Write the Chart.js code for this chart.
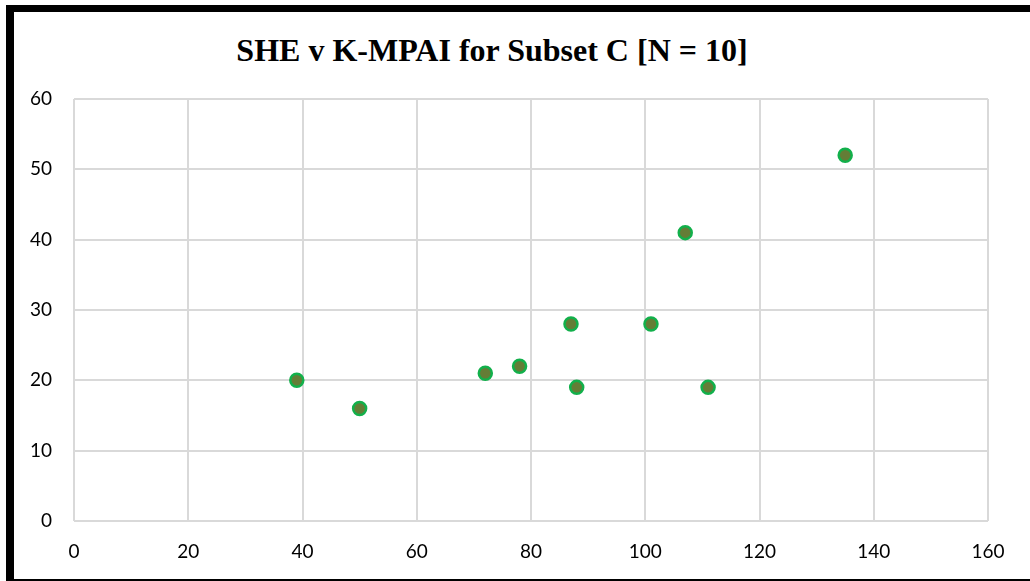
<!DOCTYPE html>
<html>
<head>
<meta charset="utf-8">
<script src="https://cdn.jsdelivr.net/npm/chart.js@4/dist/chart.umd.min.js"></script>
<style>
  html, body { margin: 0; padding: 0; background: #fff; }
  body { width: 1030px; height: 581px; position: relative; overflow: hidden; }
  #frame {
    position: absolute; left: 6px; top: 5px; width: 1040px; height: 567px;
    border-top: 7px solid #000; border-left: 8px solid #000; border-bottom: 2px solid #000;
  }
  #title {
    position: absolute; left: 0; top: 32px; width: 984px; text-align: center;
    font-family: "Liberation Serif", "DejaVu Serif", serif; font-weight: bold; font-size: 32px;
    color: #000;
  }
  #chart { position: absolute; left: 0; top: 0; }
</style>
</head>
<body>
<div id="frame"></div>
<div id="title">SHE v K-MPAI for Subset C [N = 10]</div>
<canvas id="chart" width="1030" height="581"></canvas>
<script>
// K-MPAI (x) against SHE (y) for the ten cases in subset C
const kmpai = [39, 50, 72, 78, 87, 88, 101, 107, 111, 135];
const she   = [20, 16, 21, 22, 28, 19, 28, 41, 19, 52];

const xTicks = [0, 20, 40, 60, 80, 100, 120, 140, 160];
const yTicks = [0, 10, 20, 30, 40, 50, 60];

const points = kmpai.map((x, i) => ({ x: x, y: she[i] }));
const gridColor = '#d9d9d9';
const tickFont = { family: 'Lato, "Open Sans", sans-serif', size: 19 };

new Chart(document.getElementById('chart'), {
  type: 'scatter',
  data: {
    datasets: [{
      label: 'SHE',
      data: points,
      backgroundColor: '#647d36',
      borderColor: '#12b04b',
      borderWidth: 2.5,
      pointRadius: 6.5,
      pointHoverRadius: 6.5
    }]
  },
  options: {
    responsive: false,
    animation: false,
    devicePixelRatio: 1,
    layout: { padding: { left: 14, right: 42, top: 99, bottom: 0 } },
    plugins: { legend: { display: false }, tooltip: { enabled: false } },
    scales: {
      x: {
        type: 'linear',
        min: xTicks[0],
        max: xTicks[xTicks.length - 1],
        afterBuildTicks: s => { s.ticks = xTicks.map(v => ({ value: v })); },
        afterFit: s => { s.height = 60; },
        grid: { color: gridColor, lineWidth: 2, drawTicks: false },
        border: { display: false },
        ticks: { color: '#000', font: tickFont, padding: 19, maxRotation: 0, autoSkip: false }
      },
      y: {
        type: 'linear',
        min: yTicks[0],
        max: yTicks[yTicks.length - 1],
        afterBuildTicks: s => { s.ticks = yTicks.map(v => ({ value: v })); },
        afterFit: s => { s.width = 60; },
        grid: { color: gridColor, lineWidth: 2, drawTicks: false },
        border: { display: false },
        ticks: { color: '#000', font: tickFont, padding: 22, autoSkip: false }
      }
    }
  }
});
</script>
</body>
</html>
